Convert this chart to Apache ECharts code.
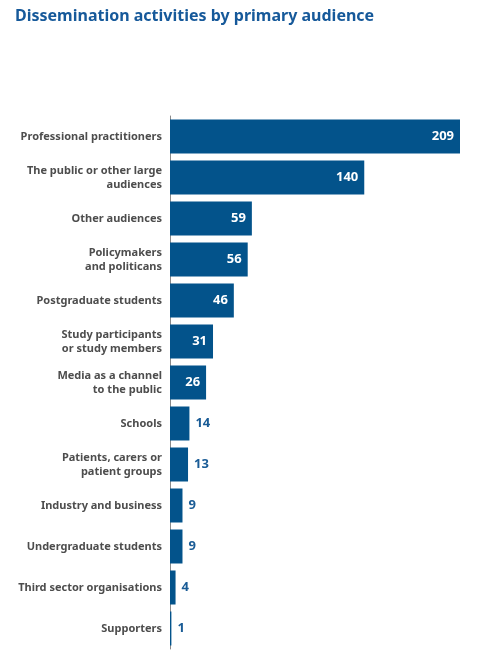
<!DOCTYPE html>
<html>
<head>
    <meta charset='UTF-8'>
    <script src="https://cdn.jsdelivr.net/npm/echarts@6/dist/echarts.min.js"></script>
    <style>
        html, body { margin: 0; padding: 0; background: #fff; }
        #chart { width: 500px; height: 660px; }
    </style>
    <title>Dissemination activities</title>
</head>
<body>
    <div id="chart"></div>
    <script>
        // data
        var categories = [
            'Professional practitioners',
            'The public or other large\naudiences',
            'Other audiences',
            'Policymakers\nand politicans',
            'Postgraduate students',
            'Study participants\nor study members',
            'Media as a channel\nto the public',
            'Schools',
            'Patients, carers or\npatient groups',
            'Industry and business',
            'Undergraduate students',
            'Third sector organisations',
            'Supporters'
        ];
        var values = [209, 140, 59, 56, 46, 31, 26, 14, 13, 9, 9, 4, 1];

        var barColor = '#03538b';
        var fontName = 'Noto Sans';

        // big bars carry the number inside, small ones outside
        var barData = values.map(function (v) {
            var inside = v >= 20;
            return {
                value: v,
                label: {
                    position: inside ? 'insideRight' : 'right',
                    distance: 6,
                    color: inside ? '#ffffff' : '#1a5c96'
                }
            };
        });

        var myChart = echarts.init(document.getElementById('chart'), null, {
            renderer: 'canvas'
        });

        var option = {
            animation: false,
            backgroundColor: '#ffffff',
            title: {
                text: 'Dissemination activities by primary audience',
                left: 10,
                top: 3,
                textStyle: {
                    color: '#16599a',
                    fontFamily: fontName,
                    fontWeight: 'bold',
                    fontSize: 16
                }
            },
            grid: {
                left: 170,
                right: 40,
                top: 116,
                bottom: 11
            },
            xAxis: {
                type: 'value',
                min: 0,
                max: 209,
                show: false
            },
            yAxis: {
                type: 'category',
                inverse: true,
                data: categories,
                axisLine: {
                    show: true,
                    lineStyle: { color: '#8a8a8a', width: 1 }
                },
                axisTick: { show: false },
                splitLine: { show: false },
                axisLabel: {
                    margin: 8,
                    align: 'right',
                    color: '#4d4d4d',
                    fontFamily: fontName,
                    fontWeight: 'bold',
                    fontSize: 11,
                    lineHeight: 14
                }
            },
            series: [{
                type: 'bar',
                data: barData,
                barWidth: 34,
                itemStyle: { color: barColor },
                label: {
                    show: true,
                    fontFamily: fontName,
                    fontWeight: 'bold',
                    fontSize: 13
                }
            }]
        };

        myChart.setOption(option);
        window.addEventListener('resize', myChart.resize);
    </script>
</body>
</html>
